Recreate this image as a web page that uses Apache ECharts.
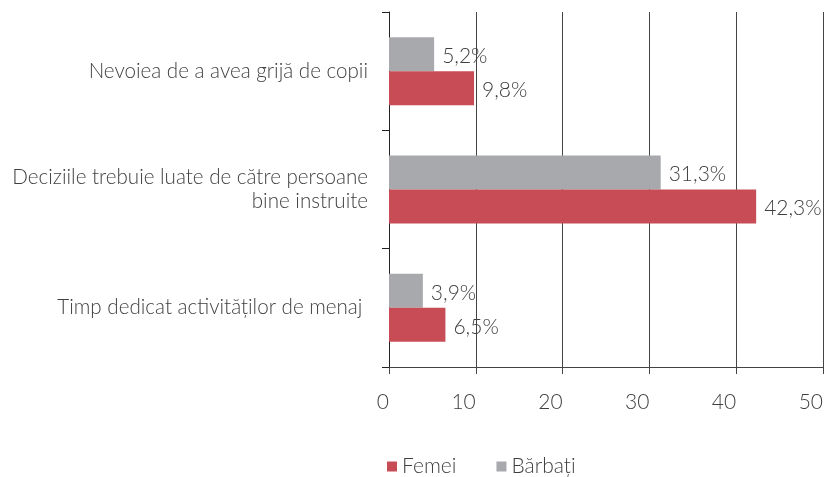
<!DOCTYPE html>
<html>
<head>
<meta charset="utf-8">
<script src="https://cdn.jsdelivr.net/npm/echarts@6/dist/echarts.min.js"></script>
<style>
  html, body { margin: 0; padding: 0; background: #fff; }
  #chart { width: 826px; height: 477px; }
</style>
</head>
<body>
<div id="chart"></div>
<script>
// categories, top to bottom
var categorii = ['Nevoiea de a avea grijă de copii', 'Deciziile trebuie luate de către persoane\nbine instruite', 'Timp dedicat activităților de menaj '];
var femei = [9.8, 42.3, 6.5];
var barbati = [5.2, 31.3, 3.9];
var xTicks = [0, 10, 20, 30, 40, 50];

var fontFam = 'Lato, "Open Sans", sans-serif';
var txtColor = '#3f3f3f';

function eticheta(p) {
    return String(p.value).replace('.', ',') + '%';
}

var myChart = echarts.init(document.getElementById('chart'));
var option = {
    animation: false,
    textStyle: { fontFamily: fontFam },
    legend: {
        data: ['Femei', 'Bărbați'],
        bottom: 0,
        padding: 0,
        left: 387,
        itemWidth: 10,
        itemHeight: 10,
        itemGap: 40,
        icon: 'rect',
        textStyle: { fontSize: 21, color: txtColor, fontWeight: 300, fontFamily: fontFam }
    },
    grid: { left: 389, right: 0, top: 12, bottom: 110 },
    xAxis: {
        type: 'value',
        min: xTicks[0],
        max: xTicks[xTicks.length - 1],
        interval: 10,
        axisLine: { show: true, lineStyle: { color: '#444', width: 1 } },
        axisTick: { show: true, length: 7, lineStyle: { color: '#444' } },
        splitLine: { show: true, lineStyle: { color: '#444', width: 1 } },
        axisLabel: {
            margin: 25, align: 'right', fontSize: 21, color: txtColor,
            fontWeight: 300, fontFamily: fontFam
        }
    },
    yAxis: {
        type: 'category',
        inverse: true,
        data: categorii,
        axisLine: { show: true, lineStyle: { color: '#222', width: 1 } },
        axisTick: { show: true, length: 7, lineStyle: { color: '#222' } },
        axisLabel: {
            margin: 21, fontSize: 20.6, color: txtColor, lineHeight: 24,
            fontWeight: 300, fontFamily: fontFam, align: 'right'
        }
    },
    series: [
        {
            name: 'Bărbați',
            type: 'bar',
            data: barbati,
            barWidth: 34,
            barGap: '0%',
            itemStyle: { color: '#a8a9ac' },
            label: {
                show: true, position: 'right', distance: 8, offset: [0, 2], formatter: eticheta,
                fontSize: 21, color: txtColor, fontWeight: 300, fontFamily: fontFam
            }
        },
        {
            name: 'Femei',
            type: 'bar',
            data: femei,
            barWidth: 34,
            barGap: '0%',
            itemStyle: { color: '#c84c56' },
            label: {
                show: true, position: 'right', distance: 8, offset: [0, 2], formatter: eticheta,
                fontSize: 21, color: txtColor, fontWeight: 300, fontFamily: fontFam
            }
        }
    ]
};
myChart.setOption(option);
</script>
</body>
</html>
